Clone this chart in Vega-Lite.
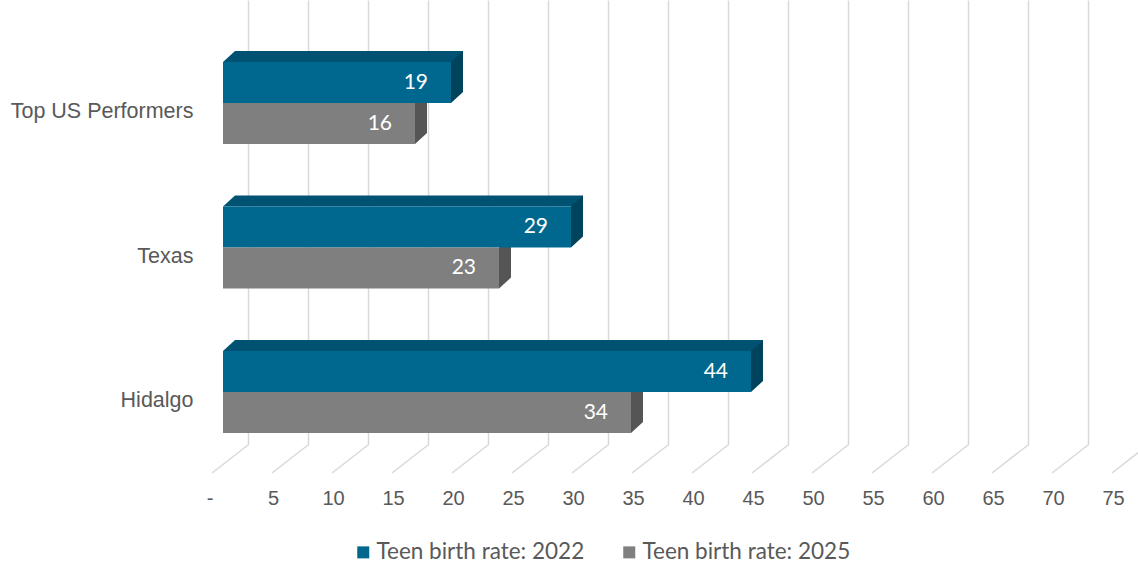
{
  "$schema": "https://vega.github.io/schema/vega-lite/v6.json",
  "width": 900,
  "height": 445,
  "autosize": {"type": "none"},
  "padding": {"left": 223, "top": 0, "right": 15, "bottom": 121},
  "background": "#ffffff",
  "datasets": {
    "bars": [
      {"cat": "Top US Performers", "series": "Teen birth rate: 2022", "value": 19},
      {"cat": "Top US Performers", "series": "Teen birth rate: 2025", "value": 16},
      {"cat": "Texas", "series": "Teen birth rate: 2022", "value": 29},
      {"cat": "Texas", "series": "Teen birth rate: 2025", "value": 23},
      {"cat": "Hidalgo", "series": "Teen birth rate: 2022", "value": 44},
      {"cat": "Hidalgo", "series": "Teen birth rate: 2025", "value": 34}
    ],
    "ticks": [
      {"tick": 0}, {"tick": 5}, {"tick": 10}, {"tick": 15}, {"tick": 20}, {"tick": 25}, {"tick": 30}, {"tick": 35},
      {"tick": 40}, {"tick": 45}, {"tick": 50}, {"tick": 55}, {"tick": 60}, {"tick": 65}, {"tick": 70}, {"tick": 75}
    ]
  },
  "config": {
    "view": {"stroke": null},
    "axisX": {
      "domain": false, "ticks": false, "tickSize": 0, "grid": true, "gridColor": "#d9d9d9", "gridWidth": 1.5,
      "tickOffset": 25, "labelOffset": -35, "labelPadding": 43,
      "labelFont": "Liberation Sans", "labelFontSize": 20, "labelColor": "#595959"
    },
    "axisY": {
      "domain": false, "ticks": false, "tickSize": 0, "grid": false,
      "labelPadding": 30, "labelOffset": 9, "labelLimit": 400,
      "labelFont": "Liberation Sans", "labelFontSize": 21.5, "labelColor": "#595959"
    }
  },
  "layer": [
    {
      "data": {"name": "ticks"},
      "mark": {"type": "rule", "y2Offset": 28, "xOffset": 25, "x2Offset": -11, "color": "#d9d9d9", "strokeWidth": 1.5},
      "encoding": {
        "x": {"field": "tick", "type": "quantitative", "title": null,
              "scale": {"domain": [0, 75], "nice": false, "zero": true},
              "axis": {"values": [0,5,10,15,20,25,30,35,40,45,50,55,60,65,70,75],
                       "labelExpr": "datum.value == 0 ? '-' : datum.label",
                       "labelAlign": {"condition": {"test": "datum.value == 0", "value": "right"}, "value": "center"},
                       "title": null}},
        "x2": {"field": "tick"},
        "y": {"value": "height"},
        "y2": {"value": "height"}
      }
    },
    {
      "data": {"name": "bars"},
      "transform": [{"filter": "datum.series == 'Teen birth rate: 2022'"}],
      "mark": {"type": "bar", "height": 11, "yOffset": -46.5, "xOffset": 12, "x2Offset": 12, "color": "#005273"},
      "encoding": {
        "x": {"field": "value", "type": "quantitative", "title": null, "scale": {"domain": [0, 75], "nice": false}},
        "y": {"field": "cat", "type": "nominal", "title": null, "sort": ["Top US Performers", "Texas", "Hidalgo"]}
      }
    },
    {
      "data": {"name": "bars"},
      "transform": [{"filter": "datum.series == 'Teen birth rate: 2022'"}],
      "mark": {"type": "point", "shape": "M0,-20.5L12,-31.5L12,-20.5Z", "size": 4, "filled": true, "opacity": 1, "strokeWidth": 0, "color": "#005273"},
      "encoding": {
        "x": {"datum": 0, "type": "quantitative", "title": null},
        "y": {"field": "cat", "type": "nominal", "title": null, "sort": ["Top US Performers", "Texas", "Hidalgo"]},
        "yOffset": {"field": "series", "type": "nominal"}
      }
    },
    {
      "data": {"name": "bars"},
      "mark": {"type": "point", "shape": "M0,-20.5L12,-31.5L12,9.5L0,20.5Z", "size": 4, "filled": true, "opacity": 1, "strokeWidth": 0},
      "encoding": {
        "x": {"field": "value", "type": "quantitative", "title": null},
        "y": {"field": "cat", "type": "nominal", "title": null, "sort": ["Top US Performers", "Texas", "Hidalgo"]},
        "yOffset": {"field": "series", "type": "nominal"},
        "fill": {"condition": {"test": "datum.series == 'Teen birth rate: 2022'", "value": "#00435c"}, "value": "#555555"}
      }
    },
    {
      "data": {"name": "bars"},
      "mark": {"type": "bar"},
      "encoding": {
        "x": {"field": "value", "type": "quantitative", "title": null},
        "y": {"field": "cat", "type": "nominal", "title": null, "sort": ["Top US Performers", "Texas", "Hidalgo"],
              "scale": {"paddingInner": 0.4325, "paddingOuter": 0.256, "align": 0.838}},
        "yOffset": {"field": "series", "type": "nominal", "scale": {"domain": ["Teen birth rate: 2022", "Teen birth rate: 2025"], "paddingInner": 0, "paddingOuter": 0}},
        "color": {"field": "series", "type": "nominal",
                  "scale": {"domain": ["Teen birth rate: 2022", "Teen birth rate: 2025"], "range": ["#00688f", "#7f7f7f"]},
                  "legend": {"title": null, "orient": "none", "legendX": 129, "legendY": 541, "direction": "horizontal",
                             "symbolType": "square", "symbolSize": 144, "symbolStrokeWidth": 0, "symbolOpacity": 1,
                             "labelFont": "Lato", "labelFontSize": 22.5, "labelColor": "#595959", "labelOffset": 2, "labelLimit": 400,
                             "columnPadding": 33, "padding": 0}}
      }
    },
    {
      "data": {"name": "bars"},
      "mark": {"type": "text", "align": "right", "baseline": "middle", "dx": -23, "color": "#ffffff", "font": "Lato", "fontSize": 21},
      "encoding": {
        "x": {"field": "value", "type": "quantitative", "title": null},
        "y": {"field": "cat", "type": "nominal", "title": null, "sort": ["Top US Performers", "Texas", "Hidalgo"]},
        "yOffset": {"field": "series", "type": "nominal"},
        "text": {"field": "value", "type": "quantitative"}
      }
    }
  ]
}
